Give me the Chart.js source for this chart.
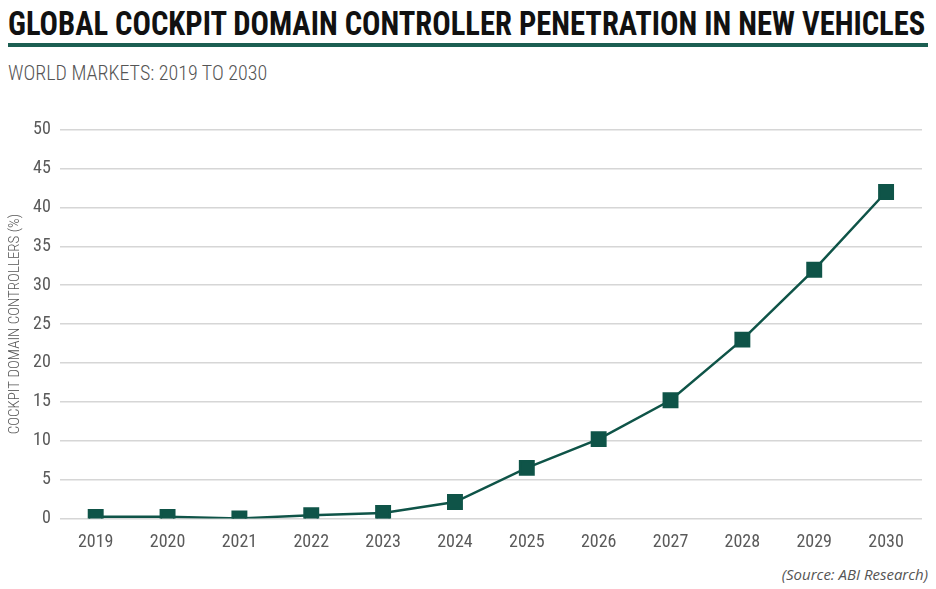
<!DOCTYPE html>
<html>
<head>
<meta charset="utf-8">
<script src="https://cdn.jsdelivr.net/npm/chart.js@4"></script>
<style>
    body { margin: 0; background: #fff; width: 936px; height: 589px; position: relative; overflow: hidden; }
    .title { position: absolute; left: 8px; top: 3px; font-family: 'Roboto Condensed', sans-serif; font-weight: bold; font-size: 34px; color: #111; white-space: nowrap; transform-origin: left top; }
    .rule { position: absolute; left: 8px; top: 43px; width: 920px; height: 4px; background: #1c5f52; }
    .subtitle { position: absolute; left: 8px; top: 61px; font-family: 'Roboto Condensed', sans-serif; font-weight: 300; font-size: 20px; color: #555; white-space: nowrap; }
    .source { position: absolute; right: 8px; top: 564px; font-family: 'Open Sans', sans-serif; font-style: italic; font-size: 15px; color: #555; }
    .chart-box { position: absolute; left: 0; top: 110px; width: 936px; height: 448px; }
</style>
</head>
<body>
<div class="title" id="title">GLOBAL COCKPIT DOMAIN CONTROLLER PENETRATION IN NEW VEHICLES</div>
<div class="rule"></div>
<div class="subtitle">WORLD MARKETS: 2019 TO 2030</div>
<div class="chart-box"><canvas id="chart"></canvas></div>
<div class="source">(Source: ABI Research)</div>
<script>
const years = ['2019', '2020', '2021', '2022', '2023', '2024', '2025', '2026', '2027', '2028', '2029', '2030'];
const penetration = [0.2, 0.2, 0, 0.4, 0.7, 2.1, 6.5, 10.2, 15.2, 23, 32, 42];
const yTicks = [0, 5, 10, 15, 20, 25, 30, 35, 40, 45, 50];

// squeeze the title to the width of the rule
const titleEl = document.getElementById('title');
titleEl.style.transform = 'scaleX(' + (917 / titleEl.offsetWidth) + ')';

const tickFont = { family: "'Roboto Condensed', sans-serif", size: 18 };
const lineColor = '#0f5448';

new Chart(document.getElementById('chart'), {
    type: 'line',
    data: {
        labels: years,
        datasets: [{
            data: penetration,
            borderColor: lineColor,
            backgroundColor: lineColor,
            borderWidth: 2.5,
            pointStyle: 'rect',
            pointRadius: 9.5,
            pointHoverRadius: 9.5,
            tension: 0
        }]
    },
    options: {
        responsive: true,
        maintainAspectRatio: false,
        animation: false,
        layout: { padding: { left: 6, right: 14, top: 5, bottom: 0 } },
        plugins: {
            legend: { display: false },
            tooltip: { enabled: false }
        },
        scales: {
            x: {
                offset: true,
                grid: { display: false },
                border: { display: false },
                ticks: { color: '#5a5a5a', font: tickFont, padding: 5 }
            },
            y: {
                min: 0,
                max: 50,
                afterBuildTicks: axis => { axis.ticks = yTicks.map(v => ({ value: v })); },
                grid: { color: '#d6d6d6', lineWidth: 1.5, drawTicks: false },
                border: { display: false },
                ticks: { color: '#5a5a5a', font: tickFont, padding: 9 },
                title: {
                    display: true,
                    text: 'COCKPIT DOMAIN CONTROLLERS (%)',
                    color: '#555',
                    font: { family: "'Roboto Condensed', sans-serif", size: 15, weight: 300 },
                    padding: 0
                }
            }
        }
    }
});
</script>
</body>
</html>
